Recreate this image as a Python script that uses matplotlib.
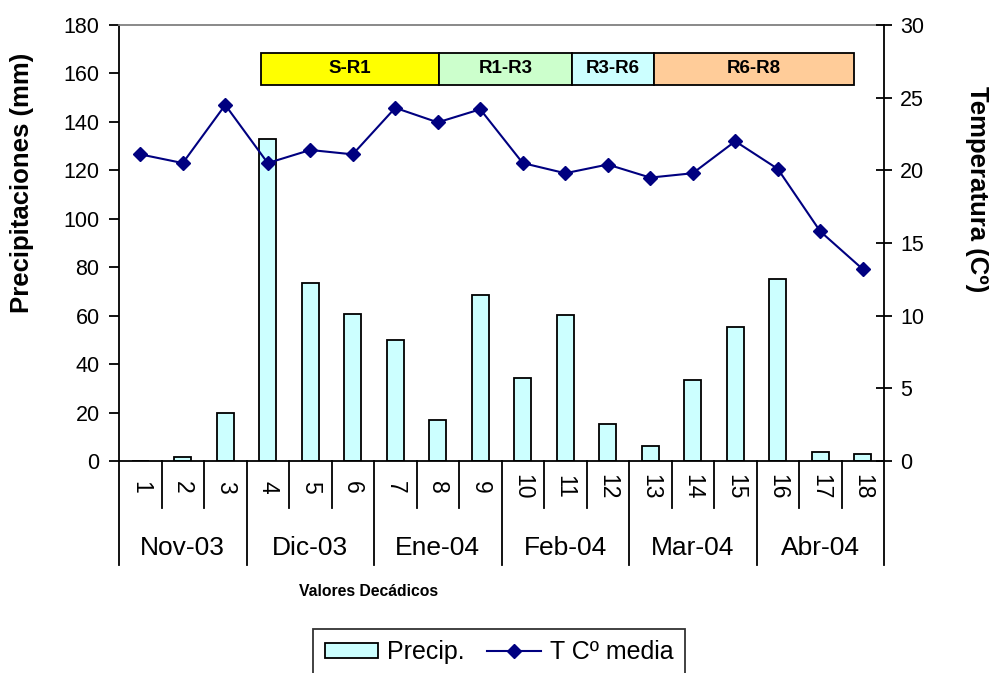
import matplotlib
matplotlib.use("Agg")
import matplotlib.pyplot as plt
from matplotlib.patches import Rectangle
from matplotlib.lines import Line2D
import matplotlib.transforms as mtransforms

plt.rcParams['font.family'] = ['Liberation Sans', 'DejaVu Sans']

# ---- data ----
decades = [str(i) for i in range(1, 19)]
months = ["Nov-03", "Dic-03", "Ene-04", "Feb-04", "Mar-04", "Abr-04"]
precip = [0, 1.5, 20, 133, 73.5, 60.5, 49.8, 16.8, 68.7, 34.1, 60.4, 15.1,
          6.1, 33.3, 55.5, 75.3, 3.6, 2.8]
temp = [21.1, 20.5, 24.5, 20.5, 21.4, 21.1, 24.3, 23.3, 24.2, 20.5, 19.8, 20.4,
        19.5, 19.8, 22.0, 20.1, 15.8, 13.2]
phase_labels = ["S-R1", "R1-R3", "R3-R6", "R6-R8"]
phase_start = [3.83, 8.03, 11.15, 13.09]
phase_end = [8.03, 11.15, 13.09, 17.79]
phase_colors = ["#FFFF00", "#CCFFCC", "#CCFFFF", "#FFCC99"]

W, H = 989, 673
fig = plt.figure(figsize=(W / 100, H / 100), dpi=100)
ax = fig.add_axes([119 / W, 1 - 461 / H, 765 / W, 436 / H])
ax2 = ax.twinx()

x = list(range(1, 19))
bars = ax.bar(x, precip, width=0.39, color="#CCFFFF", edgecolor="black",
              linewidth=1.3, zorder=2)
line, = ax2.plot(x, temp, color="#000080", marker="D", markersize=7,
                 linewidth=1.5, zorder=3)

ax.set_xlim(0.5, 18.5)
ax.set_ylim(0, 180)
ax.set_yticks(range(0, 181, 20))
ax2.set_ylim(0, 30)
ax2.set_yticks(range(0, 31, 5))
ax.set_xticks([])

for a in (ax, ax2):
    for s in a.spines.values():
        s.set_linewidth(1.3)
ax.spines['top'].set_color("#808080")
ax.spines['right'].set_visible(False)
ax2.spines['top'].set_visible(False)
ax2.spines['left'].set_visible(False)
ax2.spines['bottom'].set_visible(False)

ax.tick_params(axis='y', direction='out', length=7, width=1.3, pad=7,
               labelsize=15.5)
ax2.tick_params(axis='y', direction='inout', length=11, width=1.3, pad=6,
                labelsize=15.5)

# phase boxes
for lab, s, e, c in zip(phase_labels, phase_start, phase_end, phase_colors):
    ax.add_patch(Rectangle((s, 155.2), e - s, 13.4, facecolor=c,
                           edgecolor="black", linewidth=1.3, zorder=4))
    ax.text((s + e) / 2, 161.9, lab, ha="center", va="center",
            fontsize=13.5, fontweight="bold", zorder=5)

# multi-level category axis
trans = mtransforms.blended_transform_factory(ax.transData, ax.transAxes)
y_num_line = (461 - 508) / 436
y_month_line = (461 - 565) / 436
for b in range(0, 19):
    xb = b + 0.5
    y_end = y_month_line if b % 3 == 0 else y_num_line
    ax.add_line(Line2D([xb, xb], [0, y_end], transform=trans, color="black",
                       linewidth=1.3, clip_on=False))
for i, d in enumerate(decades):
    ax.text(i + 1, (461 - 487) / 436, d, transform=trans, ha="center",
            va="center", rotation=-90, fontsize=16.5)
for j, m in enumerate(months):
    ax.text(3 * j + 2, (461 - 548) / 436, m, transform=trans, ha="center",
            va="center", fontsize=19)

fig.text(369 / W, 1 - 592 / H, "Valores Decádicos", ha="center", va="center",
         fontsize=11.3, fontweight="bold")
fig.text(22 / W, 1 - 183 / H, "Precipitaciones (mm)", ha="center",
         va="center", rotation=90, fontsize=18.5, fontweight="bold")
fig.text(977 / W, 1 - 189 / H, "Temperatura (Cº)", ha="center", va="center",
         rotation=-90, fontsize=18.5, fontweight="bold")

leg = fig.legend([bars, line], ["Precip.", "T Cº media"], loc="upper center",
                 bbox_to_anchor=(499 / W, 1 - 629 / H), ncol=2, fontsize=18,
                 frameon=True, fancybox=False, edgecolor="black",
                 handlelength=2.15, handleheight=0.6, handletextpad=0.35,
                 columnspacing=0.9, borderpad=0.45, borderaxespad=0)
leg.get_frame().set_linewidth(1.3)

fig.savefig("out.png", dpi=100)
